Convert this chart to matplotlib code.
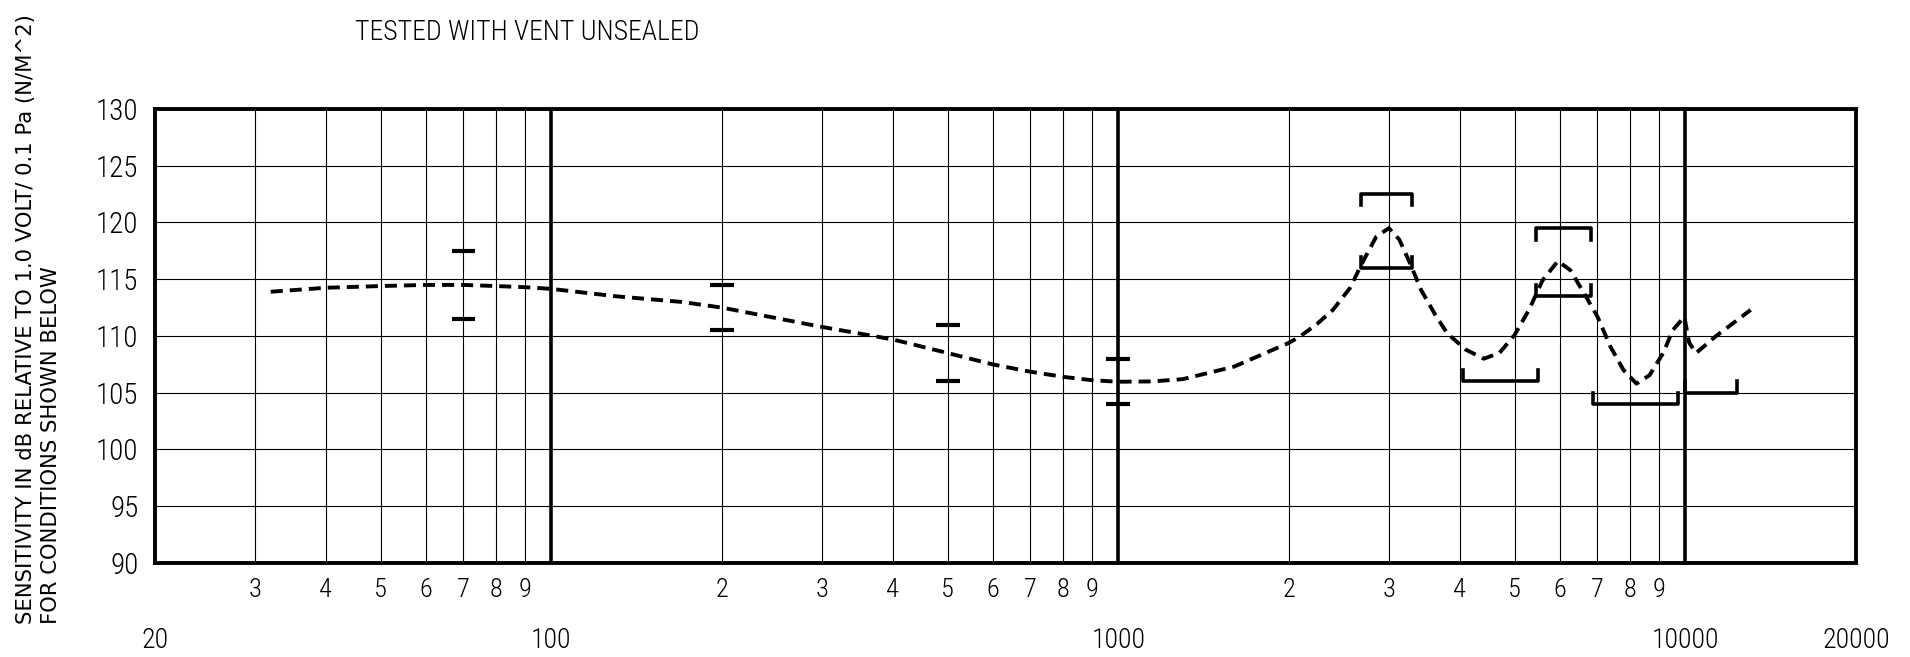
import numpy as np
import matplotlib
matplotlib.use('Agg')
import matplotlib.pyplot as plt
from matplotlib import font_manager as fm

# frequency response
curve_freq = [32, 40, 50, 60, 70, 80, 90, 100, 130, 170, 200, 300, 400, 500, 600, 700,
              800, 900, 1000, 1150, 1300, 1600, 2000, 2090, 2240, 2390, 2560, 2700, 2850,
              3000, 3130, 3270, 3420, 3610, 3800, 4100, 4410, 4700, 5000, 5300, 5600,
              5960, 6270, 6630, 7000, 7380, 7780, 8200, 8650, 9140, 9500, 9960, 10160,
              10450, 11300, 13040]
curve_db = [113.9, 114.25, 114.4, 114.5, 114.5, 114.4, 114.3, 114.15, 113.5, 113.0, 112.5,
            110.8, 109.7, 108.5, 107.5, 106.85, 106.4, 106.1, 105.97, 106.0, 106.2, 107.3,
            109.4, 109.95, 111.05, 112.3, 114.2, 116.55, 118.75, 119.5, 118.5, 116.4,
            114.05, 112.0, 110.25, 108.8, 108.0, 108.5, 110.1, 112.3, 114.9, 116.6, 115.8,
            113.75, 111.7, 109.05, 107.0, 105.8, 106.55, 108.5, 110.5, 111.7, 109.4,
            108.5, 109.95, 112.3]

# tolerance marks
tol_freq = [70, 200, 500, 1000]
tol_hi = [117.5, 114.5, 111.0, 108.0]
tol_lo = [111.5, 110.5, 106.0, 104.0]

# bracket limits: start freq, end freq, level, side (+1 upper limit, -1 lower limit)
brk_f1 = [2680, 5450, 2680, 5450, 4050, 6860, 10000]
brk_f2 = [3290, 6810, 3290, 6810, 5490, 9690, 12350]
brk_db = [122.5, 119.5, 116.0, 113.5, 106.0, 104.0, 105.0]
brk_side = [1, 1, -1, -1, -1, -1, -1]

major_f = [20, 100, 1000, 10000, 20000]
major_lbl = ['20', '100', '1000', '10000', '20000']
minor_f = [30, 40, 50, 60, 70, 80, 90,
           200, 300, 400, 500, 600, 700, 800, 900,
           2000, 3000, 4000, 5000, 6000, 7000, 8000, 9000]
minor_lbl = ['3', '4', '5', '6', '7', '8', '9'] + ['2', '3', '4', '5', '6', '7', '8', '9'] * 2
decades = [100, 1000, 10000]
y_ticks = list(range(90, 131, 5))


def pick(names):
    for n in names:
        try:
            fm.findfont(fm.FontProperties(family=n), fallback_to_default=False)
            return n
        except ValueError:
            pass
    return None


narrow = pick(['Liberation Sans Narrow', 'DejaVu Sans Condensed', 'Roboto Condensed',
               'Open Sans Condensed'])
if narrow is None:
    narrow = 'DejaVu Sans'
    k = 0.75
else:
    k = 1.0

fig = plt.figure(figsize=(19.1, 6.57), dpi=100)
ax = fig.add_axes([155 / 1910, 94 / 657, 1701 / 1910, 454 / 657])
ax.set_xscale('log')
ax.set_xlim(20, 20000)
ax.set_ylim(90, 130)

for f in minor_f:
    ax.axvline(f, color='black', lw=0.8, zorder=1)
for f in decades:
    ax.axvline(f, color='black', lw=2.6, zorder=2)
for v in y_ticks[1:-1]:
    ax.axhline(v, color='black', lw=0.8, zorder=1)

ax.plot(curve_freq, curve_db, color='black', lw=2.8, dashes=(3.1, 1.8), zorder=4)

w = 10 ** 0.021
for f, hi, lo in zip(tol_freq, tol_hi, tol_lo):
    ax.plot([f / w, f * w], [hi, hi], color='black', lw=3, solid_capstyle='butt', zorder=3)
    ax.plot([f / w, f * w], [lo, lo], color='black', lw=3, solid_capstyle='butt', zorder=3)

for f1, f2, v, s in zip(brk_f1, brk_f2, brk_db, brk_side):
    t = v - s * 1.0
    ax.plot([f1, f1, f2, f2], [t, v, v, t], color='black', lw=2.6, zorder=3)

for sp in ax.spines.values():
    sp.set_linewidth(2.8)

ax.set_yticks(y_ticks)
ax.set_yticklabels([str(v) for v in y_ticks])
ax.set_xticks(major_f)
ax.set_xticklabels(major_lbl)
ax.set_xticks(minor_f, minor=True)
ax.set_xticklabels(minor_lbl, minor=True)
ax.tick_params(axis='both', which='both', length=0)
ax.tick_params(axis='y', pad=12, labelsize=21 * k)
ax.tick_params(axis='x', which='minor', pad=11, labelsize=19 * k)
ax.tick_params(axis='x', which='major', pad=46, labelsize=20 * k)
for lab in ax.get_xticklabels(which='both') + ax.get_yticklabels():
    lab.set_family(narrow)
    lab.set_fontweight('light')

fig.text(527 / 1910, 1 - 33 / 657, 'TESTED WITH VENT UNSEALED', family=narrow,
         fontweight='light', fontsize=20 * k, ha='center', va='center')
fig.text(26 / 1910, 33 / 657, 'SENSITIVITY IN dB RELATIVE TO 1.0 VOLT/ 0.1 Pa (N/M^2)',
         family='DejaVu Sans', fontsize=15.2, rotation=90, ha='center', va='bottom')
fig.text(51 / 1910, 33 / 657, 'FOR CONDITIONS SHOWN BELOW',
         family='DejaVu Sans', fontsize=15.2, rotation=90, ha='center', va='bottom')

fig.savefig('out.png', dpi=100)
